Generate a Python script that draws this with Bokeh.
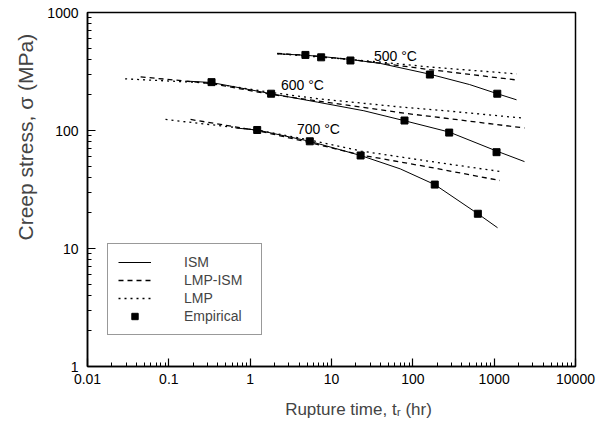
from bokeh.plotting import figure
from bokeh.models import (Range1d, FixedTicker, CustomJSTickFormatter, Legend,
                          LegendItem, Label, ColumnDataSource)
from bokeh.core.properties import value
from bokeh.embed import file_html
from bokeh.resources import INLINE
import math

FONT = "Liberation Sans"

# ---------------- data ----------------
emp500_t = [4.78, 7.46, 17.1, 162, 1092]
emp500_s = [437, 417, 392, 298, 205]
emp600_t = [0.335, 1.81, 79, 280, 1070]
emp600_s = [257, 205, 121.5, 96, 65.5]
emp700_t = [1.22, 5.41, 22.8, 186, 630]
emp700_s = [101, 81, 61.4, 34.8, 19.7]

ism500_t = [2.15, 4.78, 7.46, 17.1, 40, 162, 500, 1092, 1885]
ism500_s = [447, 434, 424, 400, 370, 300, 245, 205, 182]
ism600_t = [0.168, 0.335, 1.81, 6.7, 25, 79, 280, 1070, 2360]
ism600_s = [262, 255, 205, 174, 147, 121, 97, 67, 54.5]
ism700_t = [0.66, 1.22, 5.41, 22.8, 70, 186, 630, 1100]
ism700_s = [105, 101, 81, 61.4, 47.3, 34.8, 19.7, 15.0]

lmpism500_t = [2.15, 4.78, 17.1, 40, 162, 1885]
lmpism500_s = [450, 434, 400, 372, 328, 268]
lmpism600_t = [0.045, 0.335, 1.81, 6.7, 79, 280, 2360]
lmpism600_s = [285, 250, 202, 178, 140, 126, 105]
lmpism700_t = [0.185, 1.22, 5.41, 23, 186, 1175]
lmpism700_s = [124, 100, 79, 62, 48, 37.7]

lmp500_t = [2.15, 17.1, 40, 162, 1885]
lmp500_s = [447, 400, 380, 345, 302]
lmp600_t = [0.029, 0.335, 1.81, 6.7, 79, 280, 2360]
lmp600_s = [274, 252, 210, 186, 157, 146, 127]
lmp700_t = [0.091, 1.22, 5.41, 23, 186, 1175]
lmp700_s = [124, 101, 83, 67, 54, 45]

temp_labels = ["500 \u00b0C", "600 \u00b0C", "700 \u00b0C"]
temp_label_t = [61, 4.4, 6.9]
temp_label_s = [432, 241, 102]

x_ticks = [0.01, 0.1, 1, 10, 100, 1000, 10000]
y_ticks = [1, 10, 100, 1000]

# ---------------- figure ----------------
p = figure(width=613, height=427, x_axis_type="log", y_axis_type="log",
           x_range=Range1d(0.01, 10000), y_range=Range1d(1, 1000),
           output_backend="svg", toolbar_location=None)
p.min_border_left = 87
p.min_border_right = 38
p.min_border_top = 12
p.min_border_bottom = 61
p.background_fill_color = "white"
p.border_fill_color = "white"
p.outline_line_color = "black"
p.outline_line_width = 1.5
p.xgrid.visible = False
p.ygrid.visible = False

fmt = CustomJSTickFormatter(code="""
if (tick < 1) { return tick.toFixed(Math.round(-Math.log10(tick))); }
return tick.toFixed(0);
""")

x_minor = [m * 10.0 ** k for k in range(-2, 4) for m in range(2, 10)]
y_minor = [m * 10.0 ** k for k in range(0, 3) for m in range(2, 10)]
p.xaxis.ticker = FixedTicker(ticks=x_ticks, minor_ticks=x_minor)
p.yaxis.ticker = FixedTicker(ticks=y_ticks, minor_ticks=y_minor)
for ax in (p.xaxis[0], p.yaxis[0]):
    ax.formatter = fmt
    ax.axis_line_color = "black"
    ax.axis_line_width = 1.5
    ax.major_tick_in = 8
    ax.major_tick_out = 0
    ax.minor_tick_in = 4
    ax.minor_tick_out = 0
    ax.major_tick_line_width = 1.2
    ax.minor_tick_line_width = 1
    ax.major_tick_line_color = "black"
    ax.minor_tick_line_color = "black"
    ax.major_label_text_font = FONT
    ax.major_label_text_font_size = "14px"
    ax.major_label_text_color = "black"
p.xaxis.major_label_standoff = 7
p.yaxis.major_label_standoff = 9

ism_kw = dict(line_color="black", line_width=1)
dash_kw = dict(line_color="black", line_width=1.3, line_dash="5 4")
dot_kw = dict(line_color="black", line_width=1.3, line_dash="2 4")

r_ism = p.line(ism500_t, ism500_s, **ism_kw)
p.line(ism600_t, ism600_s, **ism_kw)
p.line(ism700_t, ism700_s, **ism_kw)

r_dash = p.line(lmpism500_t, lmpism500_s, **dash_kw)
p.line(lmpism600_t, lmpism600_s, **dash_kw)
p.line(lmpism700_t, lmpism700_s, **dash_kw)

r_dot = p.line(lmp500_t, lmp500_s, **dot_kw)
p.line(lmp600_t, lmp600_s, **dot_kw)
p.line(lmp700_t, lmp700_s, **dot_kw)

pt_kw = dict(marker="square", size=7, fill_color="black", line_color="black")
r_pts = p.scatter(emp500_t, emp500_s, **pt_kw)
p.scatter(emp600_t, emp600_s, **pt_kw)
p.scatter(emp700_t, emp700_s, **pt_kw)

src = ColumnDataSource(dict(x=temp_label_t, y=temp_label_s, text=temp_labels))
p.text(x="x", y="y", text="text", source=src, text_align="center",
       text_baseline="middle", text_font=value(FONT), text_font_size="14px",
       text_color="black")

legend = Legend(items=[LegendItem(label="ISM", renderers=[r_ism]),
                       LegendItem(label="LMP-ISM", renderers=[r_dash]),
                       LegendItem(label="LMP", renderers=[r_dot]),
                       LegendItem(label="Empirical", renderers=[r_pts])],
                location=(20, 31), orientation="vertical",
                label_text_font=FONT, label_text_font_size="14px",
                glyph_width=33, glyph_height=16, label_height=16, spacing=2,
                padding=10, label_standoff=33, label_width=67, margin=0,
                border_line_color="#333333", border_line_width=1.5,
                background_fill_color="white", background_fill_alpha=1)
p.add_layout(legend)

# axis titles as labels in the side panels
xlab = Label(x=271, y=-13, x_units="screen", y_units="screen",
             text="Rupture time, t\u1d63 (hr)", text_font=FONT,
             text_font_size="17px", text_baseline="bottom", text_align="center")
p.add_layout(xlab, "below")
ylab = Label(x=-8, y=126, x_units="screen", y_units="screen",
             text="Creep stress, \u03c3 (MPa)", text_font=FONT, angle=math.pi / 2,
             text_font_size="21px", text_baseline="top", text_align="left")
p.add_layout(ylab, "left")

open("out.html", "w").write(file_html(p, INLINE))
